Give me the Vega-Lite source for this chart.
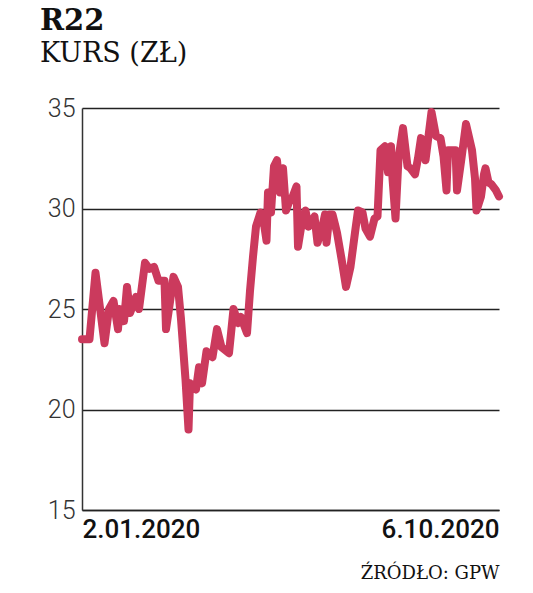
{
  "$schema": "https://vega.github.io/schema/vega-lite/v6.json",
  "width": 417,
  "height": 402,
  "autosize": "none",
  "padding": {"left": 82, "top": 108, "right": 34, "bottom": 83},
  "background": "#ffffff",
  "title": {
    "text": "R22",
    "subtitle": "KURS (ZŁ)",
    "anchor": "start",
    "frame": "group",
    "dx": -42,
    "offset": 29,
    "font": "DejaVu Serif",
    "fontSize": 29,
    "fontWeight": "bold",
    "color": "#111111",
    "subtitleFont": "DejaVu Serif",
    "subtitleFontSize": 27,
    "subtitleFontWeight": "normal",
    "subtitleColor": "#111111",
    "subtitlePadding": 5
  },
  "data": {
    "values": [
      {"date": "2020-01-02", "price": 23.5},
      {"date": "2020-01-07", "price": 23.5},
      {"date": "2020-01-11", "price": 26.8},
      {"date": "2020-01-17", "price": 23.3},
      {"date": "2020-01-20", "price": 25.0},
      {"date": "2020-01-23", "price": 25.4},
      {"date": "2020-01-26", "price": 24.0},
      {"date": "2020-01-27", "price": 25.0},
      {"date": "2020-01-30", "price": 24.4},
      {"date": "2020-02-01", "price": 26.1},
      {"date": "2020-02-03", "price": 24.8},
      {"date": "2020-02-07", "price": 25.6},
      {"date": "2020-02-09", "price": 25.0},
      {"date": "2020-02-13", "price": 27.3},
      {"date": "2020-02-16", "price": 27.0},
      {"date": "2020-02-19", "price": 27.1},
      {"date": "2020-02-22", "price": 26.4},
      {"date": "2020-02-26", "price": 26.4},
      {"date": "2020-02-27", "price": 24.0},
      {"date": "2020-02-29", "price": 25.0},
      {"date": "2020-03-03", "price": 26.6},
      {"date": "2020-03-06", "price": 26.1},
      {"date": "2020-03-08", "price": 24.5},
      {"date": "2020-03-11", "price": 21.5},
      {"date": "2020-03-13", "price": 19.0},
      {"date": "2020-03-14", "price": 21.3},
      {"date": "2020-03-18", "price": 21.0},
      {"date": "2020-03-20", "price": 22.1},
      {"date": "2020-03-22", "price": 21.3},
      {"date": "2020-03-25", "price": 22.9},
      {"date": "2020-03-29", "price": 22.6},
      {"date": "2020-04-01", "price": 24.0},
      {"date": "2020-04-04", "price": 23.1},
      {"date": "2020-04-09", "price": 22.8},
      {"date": "2020-04-12", "price": 25.0},
      {"date": "2020-04-15", "price": 24.3},
      {"date": "2020-04-17", "price": 24.6},
      {"date": "2020-04-21", "price": 23.8},
      {"date": "2020-04-23", "price": 25.9},
      {"date": "2020-04-25", "price": 27.6},
      {"date": "2020-04-27", "price": 29.1},
      {"date": "2020-04-30", "price": 29.8},
      {"date": "2020-05-02", "price": 29.4},
      {"date": "2020-05-04", "price": 28.4},
      {"date": "2020-05-05", "price": 30.8},
      {"date": "2020-05-07", "price": 29.8},
      {"date": "2020-05-09", "price": 32.1},
      {"date": "2020-05-11", "price": 32.4},
      {"date": "2020-05-13", "price": 30.8},
      {"date": "2020-05-15", "price": 32.0},
      {"date": "2020-05-17", "price": 29.9},
      {"date": "2020-05-19", "price": 30.3},
      {"date": "2020-05-21", "price": 30.5},
      {"date": "2020-05-24", "price": 31.1},
      {"date": "2020-05-25", "price": 28.1},
      {"date": "2020-05-28", "price": 29.5},
      {"date": "2020-05-30", "price": 29.9},
      {"date": "2020-06-01", "price": 29.1},
      {"date": "2020-06-05", "price": 29.6},
      {"date": "2020-06-07", "price": 28.3},
      {"date": "2020-06-10", "price": 29.0},
      {"date": "2020-06-12", "price": 29.7},
      {"date": "2020-06-13", "price": 28.3},
      {"date": "2020-06-15", "price": 29.7},
      {"date": "2020-06-17", "price": 29.7},
      {"date": "2020-06-19", "price": 29.1},
      {"date": "2020-06-20", "price": 28.8},
      {"date": "2020-06-23", "price": 27.5},
      {"date": "2020-06-26", "price": 26.1},
      {"date": "2020-06-29", "price": 27.1},
      {"date": "2020-07-02", "price": 28.8},
      {"date": "2020-07-04", "price": 29.9},
      {"date": "2020-07-07", "price": 29.8},
      {"date": "2020-07-09", "price": 29.0},
      {"date": "2020-07-12", "price": 28.6},
      {"date": "2020-07-15", "price": 29.5},
      {"date": "2020-07-17", "price": 29.6},
      {"date": "2020-07-19", "price": 32.9},
      {"date": "2020-07-22", "price": 33.1},
      {"date": "2020-07-24", "price": 31.8},
      {"date": "2020-07-26", "price": 33.1},
      {"date": "2020-07-27", "price": 31.5},
      {"date": "2020-07-29", "price": 29.5},
      {"date": "2020-07-31", "price": 32.5},
      {"date": "2020-08-03", "price": 34.0},
      {"date": "2020-08-06", "price": 32.1},
      {"date": "2020-08-08", "price": 32.0},
      {"date": "2020-08-11", "price": 31.7},
      {"date": "2020-08-13", "price": 32.5},
      {"date": "2020-08-15", "price": 33.5},
      {"date": "2020-08-18", "price": 32.4},
      {"date": "2020-08-22", "price": 34.8},
      {"date": "2020-08-25", "price": 33.6},
      {"date": "2020-08-28", "price": 33.5},
      {"date": "2020-08-30", "price": 32.6},
      {"date": "2020-09-01", "price": 30.9},
      {"date": "2020-09-02", "price": 32.9},
      {"date": "2020-09-05", "price": 32.9},
      {"date": "2020-09-07", "price": 32.9},
      {"date": "2020-09-08", "price": 30.9},
      {"date": "2020-09-11", "price": 32.5},
      {"date": "2020-09-14", "price": 34.2},
      {"date": "2020-09-18", "price": 32.9},
      {"date": "2020-09-20", "price": 31.5},
      {"date": "2020-09-21", "price": 29.9},
      {"date": "2020-09-24", "price": 30.6},
      {"date": "2020-09-26", "price": 31.7},
      {"date": "2020-09-27", "price": 32.0},
      {"date": "2020-09-29", "price": 31.3},
      {"date": "2020-10-01", "price": 31.2},
      {"date": "2020-10-04", "price": 30.9},
      {"date": "2020-10-06", "price": 30.6}
    ]
  },
  "mark": {
    "type": "line",
    "color": "#cb3a5d",
    "strokeWidth": 8,
    "strokeCap": "round",
    "strokeJoin": "round",
    "clip": false
  },
  "encoding": {
    "x": {
      "field": "date",
      "type": "temporal",
      "scale": {
        "type": "utc",
        "domain": [
          {"year": 2020, "month": 1, "date": 2, "utc": true},
          {"year": 2020, "month": 10, "date": 6, "utc": true}
        ]
      },
      "axis": {
        "title": "ŹRÓDŁO: GPW",
        "titleFont": "DejaVu Serif",
        "titleFontSize": 18,
        "titleFontWeight": "normal",
        "titleColor": "#111111",
        "titleAnchor": "end",
        "titleAlign": "right",
        "titlePadding": 22,
        "values": [
          {"year": 2020, "month": 1, "date": 2, "utc": true},
          {"year": 2020, "month": 10, "date": 6, "utc": true}
        ],
        "labelExpr": "utcFormat(datum.value, '%-d.%m.%Y')",
        "labelFlush": true,
        "labelFont": "Roboto",
        "labelFontSize": 26,
        "labelFontWeight": 500,
        "labelColor": "#111111",
        "labelPadding": 6,
        "ticks": false,
        "grid": false,
        "domainColor": "#222222",
        "domainWidth": 1.5
      }
    },
    "y": {
      "field": "price",
      "type": "quantitative",
      "scale": {"domain": [15, 35], "nice": false, "zero": false},
      "axis": {
        "title": null,
        "values": [15, 20, 25, 30, 35],
        "labelFont": "Roboto",
        "labelFontWeight": 300,
        "labelFontSize": 25,
        "labelColor": "#333333",
        "labelPadding": 7,
        "ticks": false,
        "grid": true,
        "gridColor": "#222222",
        "gridWidth": 1.5,
        "gridOpacity": 1,
        "domainColor": "#333333",
        "domainWidth": 1.5
      }
    }
  },
  "config": {
    "view": {"stroke": null}
  }
}
